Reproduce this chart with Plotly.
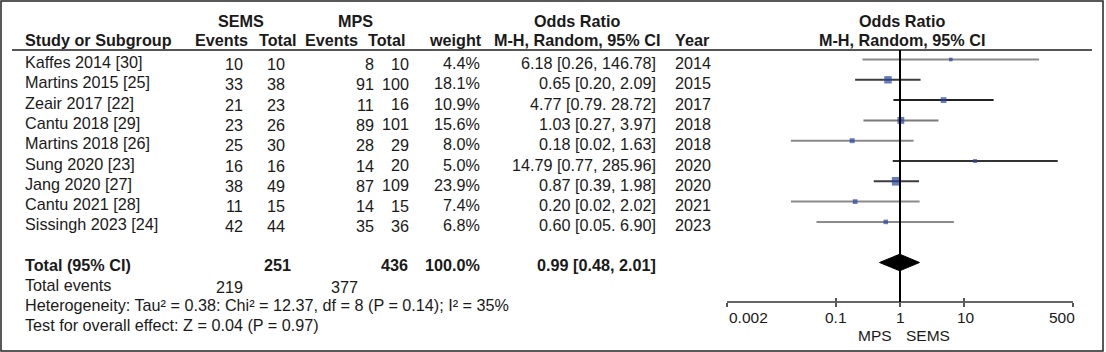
import math
import plotly.graph_objects as go

# ---------------- data ----------------
studies = ["Kaffes 2014 [30]", "Martins 2015 [25]", "Zeair 2017 [22]", "Cantu 2018 [29]",
           "Martins 2018 [26]", "Sung 2020 [23]", "Jang 2020 [27]", "Cantu 2021 [28]",
           "Sissingh 2023 [24]"]
sems_events = [10, 33, 21, 23, 25, 16, 38, 11, 42]
sems_total = [10, 38, 23, 26, 30, 16, 49, 15, 44]
mps_events = [8, 91, 11, 89, 28, 14, 87, 14, 35]
mps_total = [10, 100, 16, 101, 29, 20, 109, 15, 36]
weights = [4.4, 18.1, 10.9, 15.6, 8.0, 5.0, 23.9, 7.4, 6.8]
odds = [6.18, 0.65, 4.77, 1.03, 0.18, 14.79, 0.87, 0.20, 0.60]
ci_low = [0.26, 0.20, 0.79, 0.27, 0.02, 0.77, 0.39, 0.02, 0.05]
ci_high = [146.78, 2.09, 28.72, 3.97, 1.63, 285.96, 1.98, 2.02, 6.90]
or_labels = ["6.18 [0.26, 146.78]", "0.65 [0.20, 2.09]", "4.77 [0.79. 28.72]",
             "1.03 [0.27, 3.97]", "0.18 [0.02, 1.63]", "14.79 [0.77, 285.96]",
             "0.87 [0.39, 1.98]", "0.20 [0.02, 2.02]", "0.60 [0.05. 6.90]"]
years = [2014, 2015, 2017, 2018, 2018, 2020, 2020, 2021, 2023]

total_sems = 251
total_mps = 436
total_weight = "100.0%"
events_sems = 219
events_mps = 377
pooled_or = 0.99
pooled_low = 0.48
pooled_high = 2.01
pooled_label = "0.99 [0.48, 2.01]"
heterogeneity = "Heterogeneity: Tau\u00b2 = 0.38: Chi\u00b2 = 12.37, df = 8 (P = 0.14); I\u00b2 = 35%"
overall = "Test for overall effect: Z = 0.04 (P = 0.97)"
tick_vals = [0.002, 0.1, 1, 10, 500]
tick_text = ["0.002", "0.1", "1", "10", "500"]

# ---------------- style ----------------
W, H = 1106, 352
FONT = "Liberation Sans, Arial, sans-serif"
TXT = "#1a1a1a"
FS = 16.2
line_colors = ["#8a8a8a", "#3c3c3c", "#222222", "#7a7a7a", "#8a8a8a",
               "#333333", "#3c3c3c", "#8a8a8a", "#8a8a8a"]
BLUE = "#2a44a0"

ROW0, ROWH = 59.5, 20.3          # pixel y of row 0 and row height
y_top = -ROW0 / ROWH
y_bot = (H - ROW0) / ROWH
total_row = len(studies) + 1
AXIS_PX = 302


def px(x):
    return x / W


def py(y):
    return 1 - y / H


fig = go.Figure()

# CI lines
for i in range(len(studies)):
    fig.add_trace(go.Scatter(x=[ci_low[i], ci_high[i]], y=[i, i], mode="lines",
                             line=dict(color=line_colors[i], width=2),
                             hoverinfo="skip", showlegend=False))
# squares
fig.add_trace(go.Scatter(x=odds, y=list(range(len(studies))), mode="markers",
                         marker=dict(symbol="square", color=BLUE,
                                     size=[1.75 * math.sqrt(w) for w in weights],
                                     line=dict(width=0)),
                         showlegend=False))
# diamond
dh = 0.41
fig.add_trace(go.Scatter(x=[pooled_low, pooled_or, pooled_high, pooled_or, pooled_low],
                         y=[total_row, total_row - dh, total_row, total_row + dh, total_row],
                         mode="lines", fill="toself", fillcolor="black",
                         line=dict(color="black", width=1), showlegend=False))
# invisible trace for the overlay axis
fig.add_trace(go.Scatter(x=[1], y=[0], xaxis="x2", mode="markers",
                         marker=dict(opacity=0), showlegend=False, hoverinfo="skip"))

shapes = []
# outer border
shapes.append(dict(type="rect", xref="paper", yref="paper", x0=px(1), x1=px(1103),
                   y0=py(351), y1=py(1), line=dict(color="#222", width=1.5)))
# header rule
shapes.append(dict(type="line", xref="paper", yref="paper", x0=px(12), x1=px(1092),
                   y0=py(50), y1=py(50), line=dict(color="#555", width=2)))
# vertical line of no effect
shapes.append(dict(type="line", xref="x", yref="paper", x0=1, x1=1,
                   y0=py(AXIS_PX), y1=py(50), line=dict(color="black", width=2)))

ann = []


def t(text, x, y, anchor="left", bold=False, size=FS, yref="paper", yshift=0, xref="paper", xshift=0):
    ann.append(dict(text=("<b>%s</b>" % text) if bold else text, x=x, y=y, xref=xref, yref=yref,
                    xanchor=anchor, yanchor="middle", showarrow=False, yshift=yshift,
                    xshift=xshift, font=dict(family=FONT, size=size, color=TXT)))


# headers
t("SEMS", px(240.5), py(20.7), "center", True)
t("MPS", px(355.5), py(20.7), "center", True)
t("Odds Ratio", px(576.5), py(20.7), "center", True)
t("Odds Ratio", px(901.5), py(20.7), "center", True)
t("Study or Subgroup", px(23), py(40), "left", True)
t("Events", px(221), py(40), "center", True)
t("Total", px(277.5), py(40), "center", True)
t("Events", px(331), py(40), "center", True)
t("Total", px(386), py(40), "center", True)
t("weight", px(455.7), py(40), "center", True)
t("M-H, Random, 95% CI", px(577), py(40), "center", True)
t("Year", px(692.5), py(40), "center", True)
t("M-H, Random, 95% CI", px(901.5), py(40), "center", True)

# study rows
for i in range(len(studies)):
    t(studies[i], px(23), i, "left", yref="y", yshift=-2.5)
    t(str(sems_events[i]), px(245), i, "right", yref="y", yshift=-4.5)
    t(str(sems_total[i]), px(287), i, "right", yref="y", yshift=-4.5)
    t(str(mps_events[i]), px(376), i, "right", yref="y", yshift=-4.5)
    t(str(mps_total[i]), px(411), i, "right", yref="y", yshift=-4)
    t("%.1f%%" % weights[i], px(482), i, "right", yref="y", yshift=-3.5)
    t(or_labels[i], px(658), i, "right", yref="y", yshift=-3.5)
    t(str(years[i]), px(673), i, "left", yref="y", yshift=-3.5)

# totals
t("Total (95% CI)", px(23), py(265), "left", True)
t(str(total_sems), px(293), py(265), "right", True)
t(str(total_mps), px(410), py(265), "right", True)
t(total_weight, px(482), py(265), "right", True)
t(pooled_label, px(658), py(265), "right", True)
t("Total events", px(23), py(285), "left")
t(str(events_sems), px(245), py(286.5), "right")
t(str(events_mps), px(360), py(286.5), "right")
t(heterogeneity, px(23), py(305), "left")
t(overall, px(23), py(325), "left")

# axis tick labels
lx = [math.log10(v) for v in tick_vals]
anchors = ["left", "center", "center", "center", "right"]
shifts = [0, 0, 0, 2, 4]
for v, lab, a, s in zip(lx, tick_text, anchors, shifts):
    t(lab, v, py(317), a, xref="x", xshift=s, size=15.5)
t("MPS", 0, py(335), "right", xref="x", xshift=-6, size=15.5)
t("SEMS", 0, py(335), "left", xref="x", xshift=4, size=15.5)

xr = [math.log10(tick_vals[0]), math.log10(tick_vals[-1])]
dom = [px(726.7), px(1073.3)]
axis_common = dict(type="log", range=xr, domain=dom, anchor="free", position=py(AXIS_PX),
                   tickvals=tick_vals, showticklabels=False, showgrid=False, zeroline=False,
                   ticklen=4, tickwidth=1.5, tickcolor="#555")

fig.update_layout(
    width=W, height=H, margin=dict(l=0, r=0, t=0, b=0),
    paper_bgcolor="white", plot_bgcolor="white",
    xaxis=dict(**axis_common, showline=True, linecolor="#666", linewidth=2, ticks="outside"),
    xaxis2=dict(**axis_common, overlaying="x", showline=False, ticks="inside"),
    yaxis=dict(range=[y_bot, y_top], domain=[0, 1], visible=False, fixedrange=True),
    shapes=shapes, annotations=ann, showlegend=False,
)

fig.write_html("out.html")
